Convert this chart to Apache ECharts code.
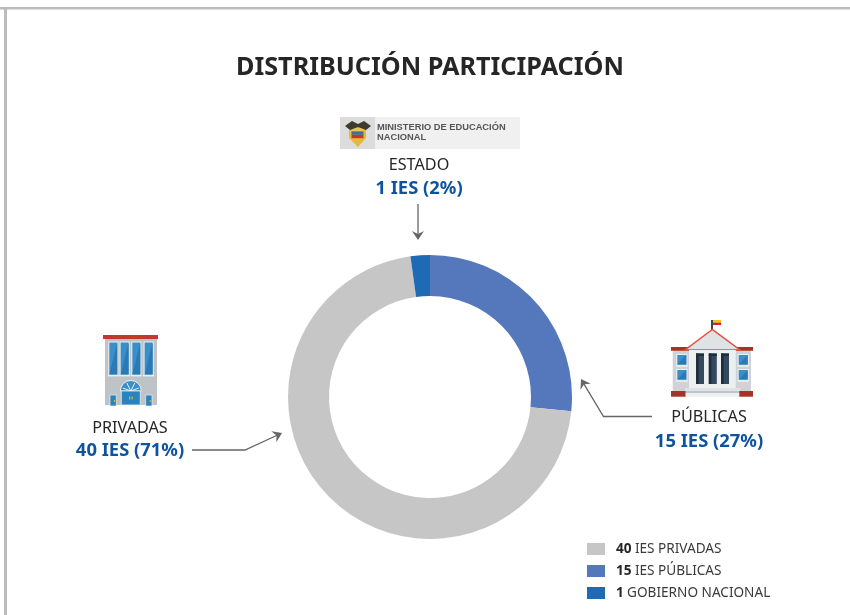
<!DOCTYPE html>
<html><head><meta charset="utf-8">
<style>html,body{margin:0;padding:0;background:#fff}#c{width:850px;height:615px}</style>
<script src="https://cdn.jsdelivr.net/npm/echarts@6/dist/echarts.min.js"></script></head>
<body><div id="c"></div>
<script>
const titleText = 'DISTRIBUCIÓN PARTICIPACIÓN';
const sliceNames = ['15 IES PÚBLICAS', '40 IES PRIVADAS', '1 GOBIERNO NACIONAL'];
const slicePercents = [26.6, 71.2, 2.2];
const sliceColors = ['#5577bb', '#c6c6c6', '#1f6ab5'];
const legendOrder = ['40 IES PRIVADAS', '15 IES PÚBLICAS', '1 GOBIERNO NACIONAL'];
const FONT = '"Noto Sans", sans-serif';
const DARK = '#262626', BLUE = '#0f539f', ARROW = '#666666';

const chart = echarts.init(document.getElementById('c'), null, {renderer: 'canvas'});

function rect(x, y, w, h, fill, extra) {
  return Object.assign({type: 'rect', shape: {x, y, width: w, height: h}, style: {fill}, silent: true}, extra || {});
}
function txt(x, y, text, size, weight, fill, family, align) {
  return {type: 'text', x, y, silent: true, style: {text, fontSize: size, fontWeight: weight, fill,
    fontFamily: family || FONT, textAlign: align || 'center', textVerticalAlign: 'middle'}};
}
function arrow(points) {
  const n = points.length, a = points[n - 2], b = points[n - 1];
  const ang = Math.atan2(b[1] - a[1], b[0] - a[0]);
  const at = (d, s) => [b[0] - d * Math.cos(ang) - s * Math.sin(ang), b[1] - d * Math.sin(ang) + s * Math.cos(ang)];
  return [
    {type: 'polyline', silent: true, shape: {points: points.slice(0, n - 1).concat([at(3, 0)])}, style: {stroke: ARROW, lineWidth: 1.3, fill: null}},
    {type: 'polygon', silent: true, shape: {points: [b, at(9, 6), at(6, 0), at(9, -6)]}, style: {fill: ARROW}}
  ];
}
function win(x, y, w, h) {
  return [rect(x - 1, y - 1, w + 2, h + 2, '#ecf0f1'), rect(x, y, w, h, '#3b8fc9'),
    {type: 'polygon', silent: true, shape: {points: [[x, y + h], [x + w, y], [x + w, y + h]]}, style: {fill: '#2a7bb5'}}];
}
function privadasIcon() {
  let g = [rect(105, 339, 52, 66, '#bdc3c7'), rect(103, 335, 55, 4, '#c0392b')];
  [109.3, 120.6, 132.3, 144.6].forEach(x => { g = g.concat(win(x, 342.5, 8, 32)); g.push(rect(x - 1.6, 375, 11, 1.4, '#ecf0f1')); });
  g.push({type: 'sector', silent: true, shape: {cx: 130.8, cy: 391, r: 10.5, r0: 0, startAngle: Math.PI, endAngle: 2 * Math.PI}, style: {fill: '#3b8fc9', stroke: '#ecf0f1', lineWidth: 1}});
  [-1, -0.5, 0.5, 1].forEach(k => g.push({type: 'line', silent: true, shape: {x1: 130.8, y1: 391, x2: 130.8 + k * 8, y2: 391 - (1.2 - Math.abs(k)) * 10 - 1}, style: {stroke: '#ecf0f1', lineWidth: 1}}));
  g.push(rect(121.3, 391, 19, 14, '#2a83bf', {style: {fill: '#2a83bf', stroke: '#ecf0f1', lineWidth: 0.8}}));
  g.push(rect(129.2, 396.5, 1, 3, '#f1c40f'), rect(131.6, 396.5, 1, 3, '#f1c40f'));
  [110, 145.7].forEach(x => { g.push(rect(x, 395, 6.3, 11, '#2a83bf', {style: {fill: '#2a83bf', stroke: '#ecf0f1', lineWidth: 0.7}})); g.push(rect(x + 4, 400, 0.9, 2, '#f1c40f')); });
  return g;
}
function publicasIcon() {
  let g = [rect(711, 320, 2, 11, '#34495e'), rect(713, 320, 8, 2.6, '#f1c40f'), rect(713, 322.6, 8, 2.4, '#e0202a'),
    rect(672.7, 350, 78.3, 41, '#cfd3d8'),
    rect(671, 347, 82, 3.7, '#a93226'),
    {type: 'polygon', silent: true, shape: {points: [[712.3, 329.5], [685, 350], [740, 350]]}, style: {fill: '#dfe3e6', stroke: '#e74c3c', lineWidth: 1.5}},
    rect(689, 350, 46.7, 38.5, '#ecf0f1')];
  [696, 708.8, 721].forEach(x => {
    g.push(rect(x, 353.5, 8, 30.5, '#34495e'));
    g.push(rect(x, 353.5, 2.6, 30.5, '#1f2d3d'));
    g.push(rect(x, 353.5, 8, 2.5, '#1f2d3d'));
  });
  [677.3, 738.7].forEach(x => [355, 370].forEach(y => {
    g = g.concat(win(x, y, 9, 9.6));
    g.push(rect(x - 1.5, y + 10.4, 12, 1.4, '#ecf0f1'));
  }));
  g.push(rect(685, 388, 55, 3, '#dfe3e6'), rect(683, 391, 59, 2.4, '#bfc5ca'), rect(681.7, 393, 61, 3.7, '#ecf0f1'));
  g.push(rect(671, 391, 14.5, 5.7, '#a93226'), rect(739.3, 391, 13.7, 5.7, '#a93226'));
  return g;
}
function logo() {
  const g = [rect(340, 117, 180, 32, '#f0f0f0'), rect(340, 117, 35, 32, '#dcdcdc')];
  g.push({type: 'polygon', silent: true, shape: {points: [[349, 126], [366, 126], [366, 138], [358, 147], [349, 138]]}, style: {fill: '#e5b93a'}});
  g.push(rect(351.5, 128, 12, 3.4, '#e6c84a'), rect(351.5, 131.4, 12, 3.4, '#3a6ea5'), rect(351.5, 134.8, 12, 3.4, '#c0392b'));
  g.push({type: 'polygon', silent: true, shape: {points: [[345, 126], [352, 121], [358, 124], [364, 121], [371, 126], [366, 130], [358, 127], [350, 130]]}, style: {fill: '#3d3a2e'}});
  g.push(txt(377, 127.5, 'MINISTERIO DE EDUCACIÓN', 9.3, 'bold', '#555555', '"Liberation Sans", Arial, sans-serif', 'left'));
  g.push(txt(377, 137, 'NACIONAL', 9.3, 'bold', '#555555', '"Liberation Sans", Arial, sans-serif', 'left'));
  return g;
}

const graphics = [].concat(
  [rect(0, 7, 850, 2.5, '#bcbcbc'), rect(4, 7, 3, 608, '#bcbcbc')],
  logo(), privadasIcon(), publicasIcon(),
  arrow([[418, 204], [418, 240]]),
  arrow([[192, 450], [245, 450], [282, 433]]),
  arrow([[652, 416.5], [603.5, 416.5], [581, 379]]),
  [
    txt(430, 68, titleText, 25.2, 'bold', DARK),
    txt(419, 165, 'ESTADO', 16.2, 'normal', DARK),
    txt(419, 189, '1 IES (2%)', 18.4, 'bold', BLUE),
    txt(130, 428, 'PRIVADAS', 16.2, 'normal', DARK),
    txt(130, 451, '40 IES (71%)', 18.4, 'bold', BLUE),
    txt(709, 417.5, 'PÚBLICAS', 16.2, 'normal', DARK),
    txt(709, 442, '15 IES (27%)', 18.4, 'bold', BLUE)
  ]
);

chart.setOption({
  animation: false,
  backgroundColor: '#ffffff',
  color: sliceColors,
  legend: {
    orient: 'vertical', left: 582, top: 537, itemWidth: 18, itemHeight: 12, itemGap: 8, data: legendOrder,
    icon: 'rect', selectedMode: false,
    formatter: name => { const i = name.indexOf(' '); return '{b|' + name.slice(0, i) + '} {n|' + name.slice(i + 1) + '}'; },
    textStyle: {padding: [0, 0, 0, 6], rich: {
      b: {fontFamily: FONT, fontSize: 13.6, fontWeight: 'bold', color: DARK},
      n: {fontFamily: FONT, fontSize: 13.6, color: '#3a3a3a'}
    }}
  },
  series: [{
    type: 'pie', center: [430, 397], radius: [101, 142], startAngle: 90, clockwise: true,
    label: {show: false}, labelLine: {show: false}, silent: true,
    itemStyle: {borderWidth: 0},
    data: sliceNames.map((name, i) => ({name, value: slicePercents[i]}))
  }],
  graphic: {elements: graphics}
});
</script></body></html>
